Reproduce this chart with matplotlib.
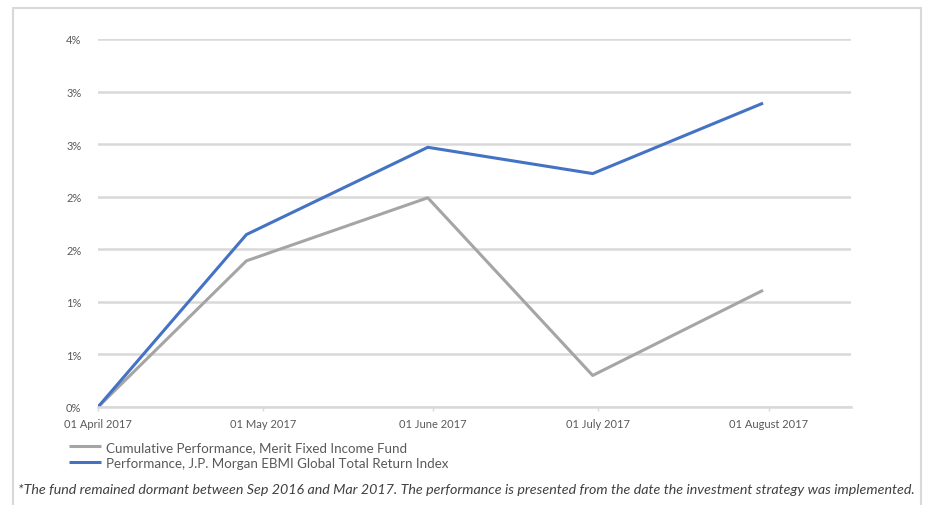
import math
import matplotlib
matplotlib.use("Agg")
import matplotlib.pyplot as plt
import matplotlib.dates as mdates
from matplotlib.ticker import FuncFormatter, MultipleLocator
from matplotlib.patches import Rectangle
import pandas as pd

plt.rcParams['font.family'] = ['Lato', 'DejaVu Sans']

# data (percent)
dates = pd.to_datetime(["2017-04-01", "2017-04-28", "2017-05-31", "2017-06-30", "2017-07-31"])
fund = [0.0, 1.39, 1.99, 0.30, 1.11]
index = [0.0, 1.64, 2.47, 2.22, 2.89]
tick_dates = pd.to_datetime(["2017-04-01", "2017-05-01", "2017-06-01", "2017-07-01", "2017-08-01"])

fund_label = "Cumulative Performance, Merit Fixed Income Fund"
index_label = "Performance, J.P. Morgan EBMI Global Total Return Index"
note = ("*The fund remained dormant between Sep 2016 and Mar 2017. "
        "The performance is presented from the date the investment strategy was implemented.")

W, H = 927, 506
fig = plt.figure(figsize=(W / 100, H / 100), dpi=100)
ax = fig.add_axes([98 / W, 1 - 408 / H, (851 - 98) / W, (408 - 40) / H])

# chart border
fig.patches.append(Rectangle((13 / W, -0.05), (921 - 13) / W, 1.05 - 9 / H,
                             transform=fig.transFigure, fill=False,
                             edgecolor="#d9d9d9", linewidth=1.5))

gray = "#a5a5a5"
blue = "#4472c4"
ax.plot(dates, fund, color=gray, linewidth=2.2, label=fund_label, solid_capstyle="butt")
ax.plot(dates, index, color=blue, linewidth=2.2, label=index_label, solid_capstyle="butt")

ax.set_ylim(0, 3.5)
ax.set_xlim(pd.Timestamp("2017-04-01"), pd.Timestamp("2017-08-16"))
ax.yaxis.set_major_locator(MultipleLocator(0.5))
ax.yaxis.set_major_formatter(FuncFormatter(lambda v, p: f"{int(math.floor(v + 0.5))}%"))
ax.set_xticks(tick_dates)
ax.xaxis.set_major_formatter(mdates.DateFormatter("%d %B %Y"))

ax.grid(axis="y", color="#d9d9d9", linewidth=1.8)
ax.set_axisbelow(True)
for s in ["top", "right", "left"]:
    ax.spines[s].set_visible(False)
ax.spines["bottom"].set_color("#d9d9d9")
ax.spines["bottom"].set_linewidth(1.8)
ax.tick_params(axis="y", length=0, pad=12, labelsize=8, labelcolor="#595959")
ax.tick_params(axis="x", length=3, width=1, color="#d9d9d9", pad=5,
               labelsize=8, labelcolor="#595959")

leg = fig.legend(loc="upper left", bbox_to_anchor=(69 / W, 1 - 442 / H),
                 frameon=False, fontsize=9.6, handlelength=2.4, handletextpad=0.35,
                 labelspacing=0.3, borderaxespad=0, borderpad=0)
for t in leg.get_texts():
    t.set_color("#595959")

fig.text(18 / W, 1 - 490 / H, note, fontsize=10.3, style="italic",
         color="#404040", ha="left", va="center")

fig.savefig("out.png", dpi=100)
